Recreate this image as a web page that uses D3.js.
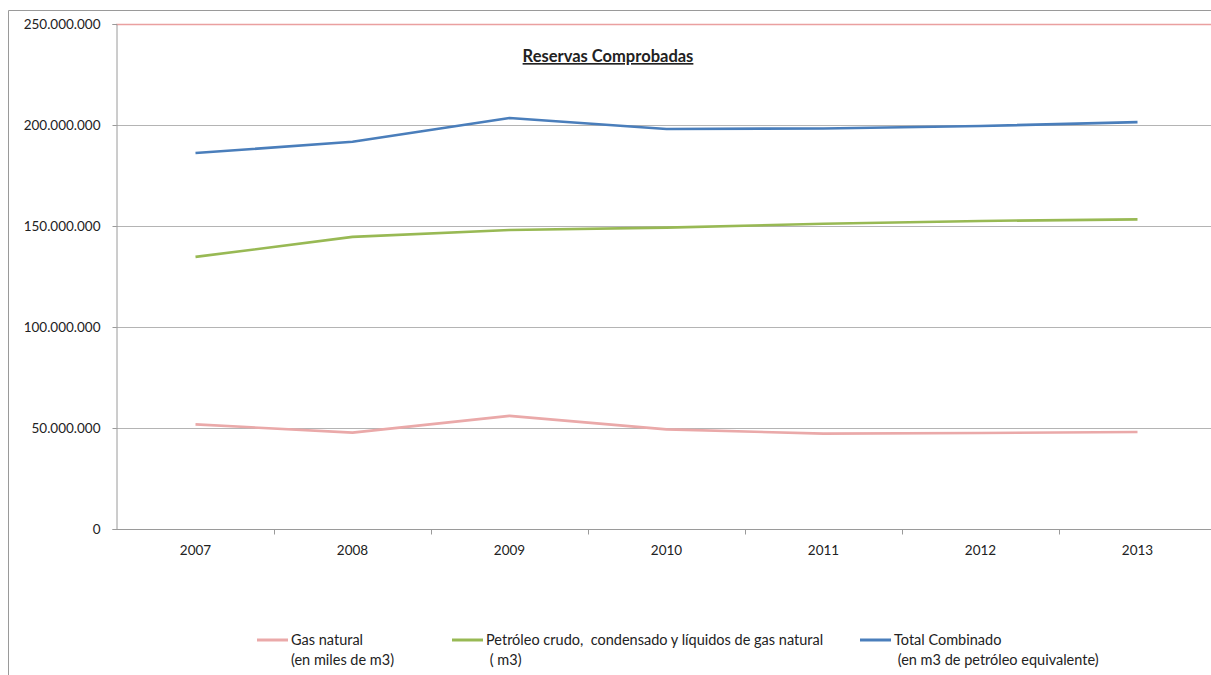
<!DOCTYPE html>
<html>
<head>
<meta charset="utf-8">
<title>Reservas Comprobadas</title>
<script src="https://cdn.jsdelivr.net/npm/d3@7/dist/d3.min.js"></script>
<style>
body { margin: 0; background: #fff; }
svg { display: block; font-family: Lato, "Open Sans", sans-serif; }
.axis text { font-family: Lato, "Open Sans", sans-serif; font-size: 13.5px; fill: #222; }
.axis path, .axis line { stroke: #9a9a9a; }
.grid line { stroke: #b4b4b4; }
.line { fill: none; stroke-width: 2.6px; stroke-linejoin: round; }
.legend text { font-size: 14.5px; fill: #222; white-space: pre; }
</style>
</head>
<body>
<svg width="1211" height="675"></svg>
<script>
var years = ["2007", "2008", "2009", "2010", "2011", "2012", "2013"];
var gasNatural = [51800000, 47700000, 56000000, 49300000, 47200000, 47500000, 48000000];
var petroleo = [134700000, 144600000, 148000000, 149200000, 151100000, 152500000, 153300000];
var totalComb = [186100000, 191700000, 203500000, 198000000, 198300000, 199500000, 201400000];
var yTicks = [0, 50000000, 100000000, 150000000, 200000000, 250000000];
var seriesNames = [
  ["Gas natural", "(en miles de m3)"],
  ["Petróleo crudo,  condensado y líquidos de gas natural", " ( m3)"],
  ["Total Combinado", " (en m3 de petróleo equivalente)"]
];
var colors = ["#eaa9a9", "#98b954", "#4a7ebb"];

var svg = d3.select("svg");
var W = +svg.attr("width");
var plotLeft = 116, plotTop = 24, plotBottom = 529;

// outer frame
svg.append("path").attr("d", "M8.5,675 V10.5 H1211").attr("fill", "none").attr("stroke", "#9a9a9a");

var x = d3.scaleBand().domain(years).range([117, 1216]);
var y = d3.scaleLinear().domain([0, 250000000]).range([plotBottom, plotTop]);
var es = d3.formatLocale({decimal: ",", thousands: ".", grouping: [3], currency: ["", ""]});
var fmt = es.format(",d");

// gridlines
svg.append("g").attr("class", "grid").selectAll("line")
  .data(yTicks.filter(function(d) { return d > 0 && d < 250000000; }))
  .enter().append("line")
  .attr("x1", plotLeft).attr("x2", W)
  .attr("y1", function(d) { return Math.round(y(d)) + 0.5; })
  .attr("y2", function(d) { return Math.round(y(d)) + 0.5; });
svg.append("line").attr("x1", plotLeft).attr("x2", W)
  .attr("y1", y(250000000) + 0.5).attr("y2", y(250000000) + 0.5)
  .attr("stroke", "#eaa0a0").attr("stroke-width", 1.5);

// y axis
svg.append("g").attr("class", "axis").attr("transform", "translate(" + (plotLeft + 0.5) + ",0)")
  .call(d3.axisLeft(y).tickValues(yTicks).tickFormat(fmt).tickSizeOuter(0).tickSize(4).tickPadding(12));

// x axis
var xAxis = svg.append("g").attr("class", "axis").attr("transform", "translate(0," + (plotBottom + 0.5) + ")")
  .call(d3.axisBottom(x).tickSize(0).tickSizeOuter(0).tickPadding(16));
xAxis.select(".domain").attr("d", "M" + plotLeft + ",0H" + W);
xAxis.selectAll(".sep").data(years.slice(1)).enter().append("line").attr("class", "sep")
  .attr("x1", function(d) { return Math.round(x(d)) + 0.5; })
  .attr("x2", function(d) { return Math.round(x(d)) + 0.5; })
  .attr("y1", 0).attr("y2", 5);

// lines
var line = d3.line()
  .x(function(d, i) { return x(years[i]) + x.bandwidth() / 2; })
  .y(function(d) { return y(d); });
[gasNatural, petroleo, totalComb].forEach(function(s, i) {
  svg.append("path").attr("class", "line").attr("d", line(s)).attr("stroke", colors[i]);
});

// title
svg.append("text").attr("x", 608).attr("y", 62).attr("text-anchor", "middle")
  .style("font-size", "16.5px").style("font-weight", "bold").style("text-decoration", "underline")
  .attr("fill", "#222").text("Reservas Comprobadas");

// legend
var legX = [257, 452, 860];
var legend = svg.selectAll(".legend").data(seriesNames).enter().append("g").attr("class", "legend")
  .attr("transform", function(d, i) { return "translate(" + legX[i] + ",640)"; });
legend.append("line").attr("x1", 0).attr("x2", 31).attr("y1", 0).attr("y2", 0)
  .attr("stroke", function(d, i) { return colors[i]; }).attr("stroke-width", 3);
legend.append("text").attr("x", 34).attr("y", 5).text(function(d) { return d[0]; });
legend.append("text").attr("x", 34).attr("y", 25).text(function(d) { return d[1]; });
</script>
</body>
</html>
